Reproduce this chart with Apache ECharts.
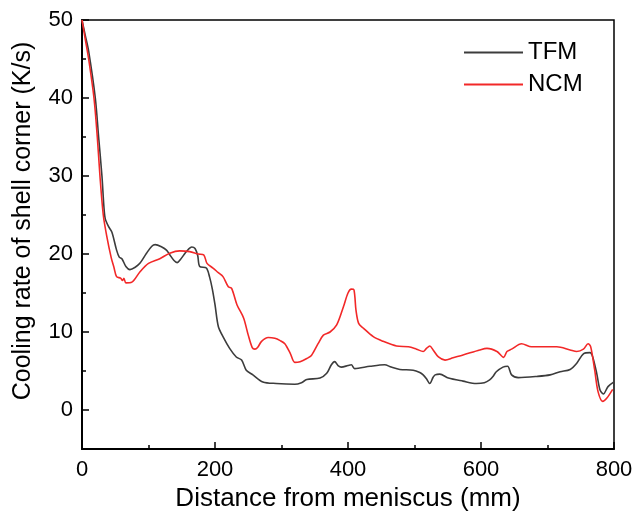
<!DOCTYPE html>
<html><head><meta charset="utf-8">
<script src="https://cdn.jsdelivr.net/npm/echarts@6/dist/echarts.min.js"></script>
<style>html,body{margin:0;padding:0;background:#fff}#c{width:633px;height:514px}</style>
</head><body><div id="c"></div>
<script>
const tfm = [[0,50],[5,48],[10,46],[20,40],[25,35],[30,30],[33,26],[35,24.5],[40,23.5],[45,22.8],[52,20.5],[56,19.6],[60,19.4],[66,18.4],[72,18.0],[80,18.3],[87,18.8],[97,20.1],[105,21.0],[110,21.2],[120,20.9],[127,20.5],[132,19.9],[138,19.2],[143,18.9],[148,19.3],[155,20.1],[160,20.6],[165,20.9],[170,20.7],[174,19.8],[177,18.4],[187,18.2],[192,17.0],[196,15.5],[200,13.5],[205,10.7],[212,9.4],[222,7.9],[232,6.8],[240,6.4],[247,5.1],[257,4.5],[272,3.6],[292,3.4],[320,3.3],[330,3.5],[338,3.9],[358,4.1],[368,4.7],[375,5.8],[380,6.2],[385,5.7],[390,5.5],[400,5.7],[405,5.8],[410,5.3],[433,5.6],[455,5.8],[465,5.5],[478,5.2],[498,5.1],[508,4.8],[513,4.5],[518,4.0],[523,3.4],[528,4.2],[531,4.5],[538,4.6],[551,4.1],[573,3.7],[593,3.4],[605,3.5],[613,3.85],[618,4.3],[623,4.9],[633,5.5],[640,5.6],[646,4.5],[656,4.15],[684,4.3],[704,4.5],[719,4.9],[734,5.2],[744,6.0],[754,7.2],[764,7.35],[768,6.8],[774,4.7],[779,2.55],[784,2.05],[791,3.0],[800,3.6]];
const ncm = [[0,50],[5,47.5],[10,45],[18,40],[23,35],[27,30],[32,25],[37,22.4],[44,19.5],[48,18.3],[52,17.1],[58,16.9],[61,16.6],[63,16.9],[66,16.3],[75,16.4],[87,17.7],[100,18.8],[117,19.4],[132,20.1],[147,20.4],[162,20.3],[175,20.0],[183,19.9],[188,18.8],[197,18.2],[205,17.6],[212,17.1],[220,15.8],[225,15.6],[233,13.5],[243,11.8],[250,9.6],[256,8.0],[260,7.8],[264,8.0],[270,8.8],[280,9.3],[290,9.2],[298,8.9],[305,8.5],[313,7.3],[320,6.1],[328,6.2],[338,6.6],[345,7.0],[355,8.5],[363,9.6],[373,10.0],[383,10.9],[393,13.2],[400,15.0],[405,15.5],[409,15.4],[412,12.8],[416,11.1],[423,10.5],[438,9.4],[453,8.8],[473,8.2],[491,8.1],[503,7.8],[513,7.5],[518,7.9],[523,8.2],[528,7.7],[536,6.8],[546,6.4],[558,6.7],[573,7.05],[598,7.7],[609,7.9],[624,7.5],[634,6.75],[639,7.5],[646,7.8],[661,8.5],[676,8.1],[714,8.1],[734,7.7],[744,7.5],[754,7.8],[761,8.5],[765,8.1],[771,5.1],[776,2.35],[783,1.1],[789,1.5],[798,2.65]];
const yMajor = [0,10,20,30,40,50];
const yMinor = [-5,5,15,25,35,45];
const xTitle = 'Distance from meniscus (mm)';
const yTitle = 'Cooling rate of shell corner (K/s)';

const FONT = 'Liberation Sans, Arial, sans-serif';
const chart = echarts.init(document.getElementById('c'), null, {renderer:'canvas'});
function tickAxis(vals, len){
  return {type:'value',min:-5,max:50,position:'left',
    axisLine:{show:false,onZero:false},
    axisTick:{show:true,inside:true,length:len,customValues:vals,lineStyle:{color:'#000',width:1.5}},
    axisLabel:{show:false,customValues:vals},
    splitLine:{show:false}};
}
chart.setOption({
  animation:false,
  grid:{left:82,right:19,top:20,bottom:65,show:true,borderColor:'#000',borderWidth:1.5,outerBoundsMode:'none'},
  legend:{orient:'vertical',left:459,top:35,icon:'rect',itemWidth:59,itemHeight:2,itemGap:7,
    textStyle:{fontFamily:FONT,fontSize:24,lineHeight:25,color:'#000'},data:['TFM','NCM']},
  graphic:[{type:'text',x:23,y:221,rotation:Math.PI/2,
    style:{text:yTitle,font:'25px '+FONT,fill:'#000',textAlign:'center',textVerticalAlign:'middle'}}],
  xAxis:{type:'value',min:0,max:800,interval:200,
    name:xTitle,nameLocation:'middle',nameGap:37,
    nameTextStyle:{fontFamily:FONT,fontSize:26,color:'#000'},
    axisLine:{onZero:false,lineStyle:{color:'#000',width:2}},
    axisTick:{inside:true,length:7,lineStyle:{color:'#000',width:1.5}},
    minorTick:{show:true,splitNumber:2,length:4,lineStyle:{color:'#000',width:1.5}},
    axisLabel:{fontFamily:FONT,fontSize:22,color:'#000',margin:10},
    splitLine:{show:false}},
  yAxis:[{type:'value',min:-5,max:50,
    axisLine:{onZero:false,lineStyle:{color:'#000',width:2}},
    axisTick:{show:false},
    axisLabel:{fontFamily:FONT,fontSize:22,color:'#000',margin:9,customValues:yMajor},
    splitLine:{show:false}},
   tickAxis(yMajor,7),
   tickAxis(yMinor,4)],
  series:[
    {name:'TFM',type:'line',data:tfm,smooth:0.3,symbol:'none',yAxisIndex:0,
     lineStyle:{color:'#3c3c3c',width:1.6},itemStyle:{color:'#3c3c3c'}},
    {name:'NCM',type:'line',data:ncm,smooth:0.3,symbol:'none',yAxisIndex:0,
     lineStyle:{color:'#f22828',width:1.6},itemStyle:{color:'#f22828'}}
  ]
});
</script></body></html>
